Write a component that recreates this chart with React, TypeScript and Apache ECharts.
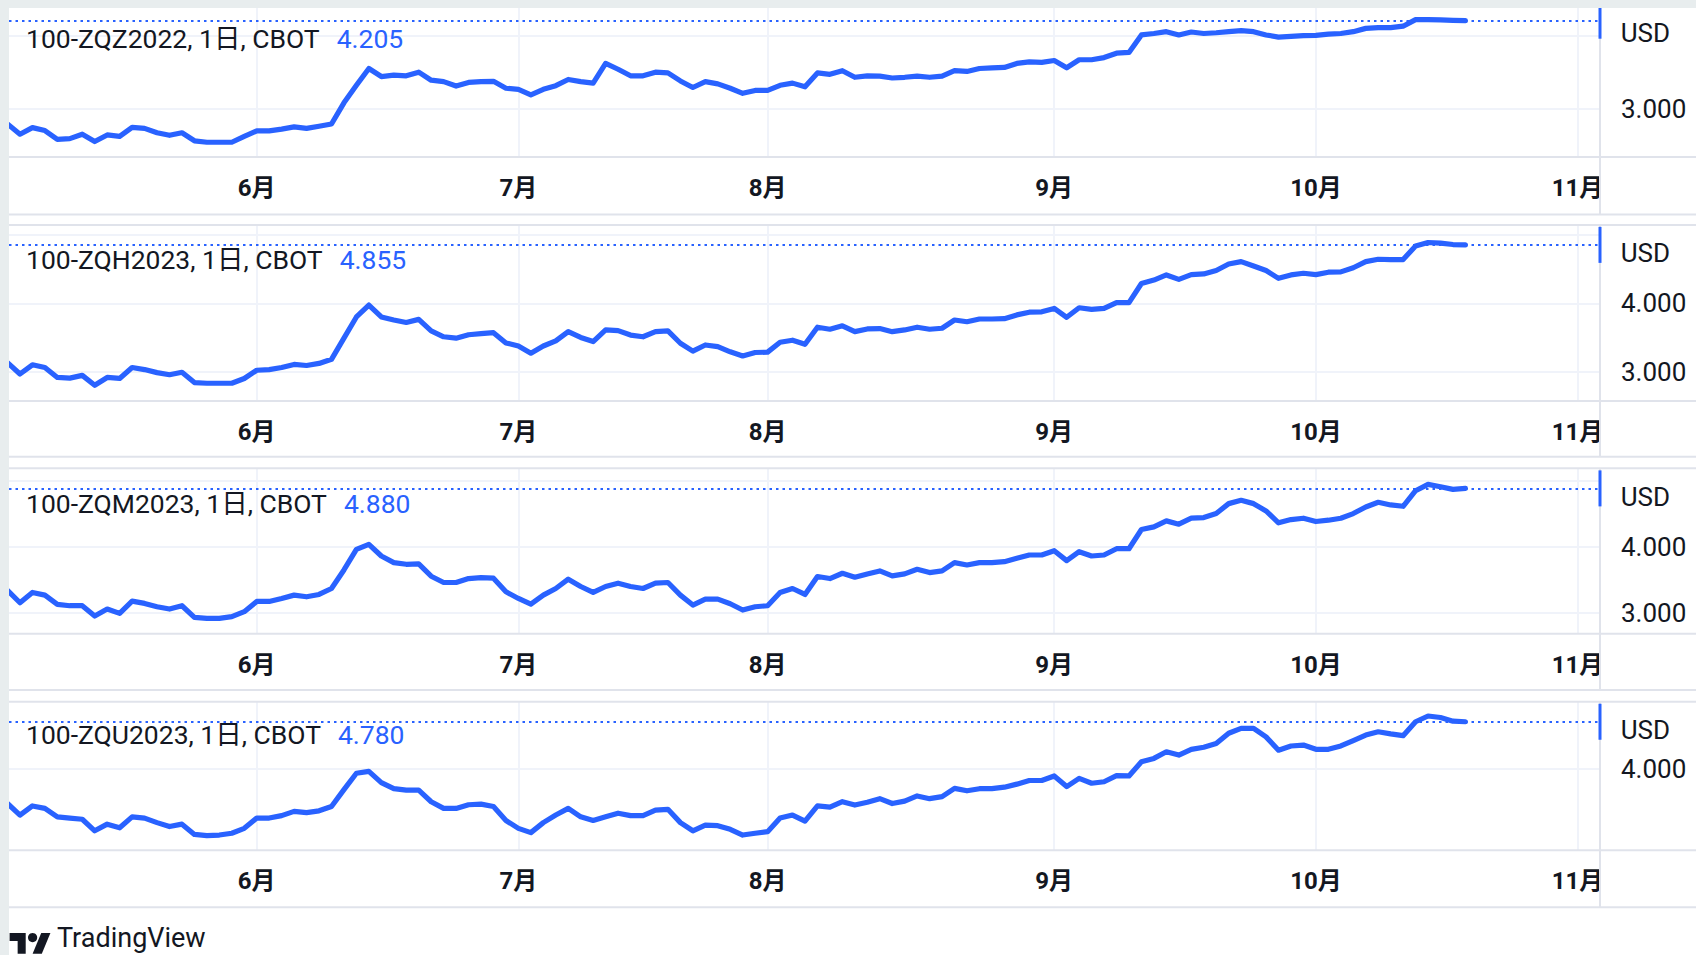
import React, { useEffect, useRef } from "react";
import * as echarts from "echarts";

// ---------- categories (trading days, CBOT) ----------
const HOLIDAYS = ["2022-05-30", "2022-06-20", "2022-07-04", "2022-09-05"];
function tradingDays(start: string, end: string, holidays: string[]): string[] {
  const out: string[] = [];
  const s = new Date(start + "T00:00:00Z");
  const e = new Date(end + "T00:00:00Z");
  for (let d = s; d <= e; d = new Date(d.getTime() + 86400000)) {
    const dow = d.getUTCDay();
    const iso = d.toISOString().slice(0, 10);
    if (dow === 0 || dow === 6 || holidays.includes(iso)) continue;
    out.push(iso);
  }
  return out;
}
const dates = tradingDays("2022-05-03", "2022-11-02", HOLIDAYS);

// ---------- series ----------
const symbols = ["100-ZQZ2022", "100-ZQH2023", "100-ZQM2023", "100-ZQU2023"];

const zqz2022 = [
  2.79, 2.65, 2.74, 2.70, 2.58, 2.59, 2.65, 2.55, 2.64, 2.62,
  2.745, 2.73, 2.67, 2.635, 2.67, 2.56, 2.54, 2.54, 2.54, 2.62,
  2.695, 2.695, 2.72, 2.75, 2.73, 2.76, 2.79, 3.08, 3.32, 3.55,
  3.44, 3.46, 3.45, 3.50, 3.39, 3.37, 3.31, 3.36, 3.37, 3.375,
  3.28, 3.265, 3.19, 3.265, 3.315, 3.40, 3.37, 3.35, 3.62, 3.54,
  3.45, 3.45, 3.50, 3.49, 3.38, 3.29, 3.37, 3.34, 3.28, 3.21,
  3.25, 3.25, 3.32, 3.35, 3.30, 3.49, 3.47, 3.52, 3.43, 3.45,
  3.445, 3.42, 3.43, 3.445, 3.43, 3.445, 3.52, 3.51, 3.55, 3.56,
  3.565, 3.62, 3.64, 3.635, 3.66, 3.56, 3.67, 3.67, 3.70, 3.76,
  3.77, 4.01, 4.03, 4.055, 4.01, 4.05, 4.03, 4.04, 4.055, 4.07,
  4.055, 4.01, 3.98, 3.99, 4.00, 4.005, 4.02, 4.03, 4.055, 4.10,
  4.11, 4.11, 4.13, 4.22, 4.22, 4.215, 4.21, 4.205,
];

const zqh2023 = [
  3.13, 2.965, 3.10, 3.06, 2.915, 2.905, 2.945, 2.80, 2.915, 2.90,
  3.06, 3.03, 2.985, 2.955, 2.99, 2.84, 2.83, 2.83, 2.83, 2.90,
  3.02, 3.03, 3.06, 3.105, 3.09, 3.12, 3.18, 3.49, 3.80, 3.975,
  3.80, 3.755, 3.72, 3.765, 3.595, 3.51, 3.49, 3.54, 3.555, 3.57,
  3.42, 3.375, 3.27, 3.375, 3.45, 3.585, 3.50, 3.44, 3.61, 3.60,
  3.535, 3.51, 3.585, 3.595, 3.415, 3.30, 3.39, 3.365, 3.29, 3.23,
  3.28, 3.285, 3.43, 3.46, 3.40, 3.65, 3.62, 3.67, 3.585, 3.625,
  3.63, 3.585, 3.61, 3.65, 3.62, 3.635, 3.755, 3.73, 3.77, 3.77,
  3.775, 3.83, 3.87, 3.875, 3.925, 3.795, 3.935, 3.91, 3.925, 4.01,
  4.01, 4.29, 4.34, 4.415, 4.35, 4.42, 4.43, 4.48, 4.575, 4.61,
  4.545, 4.48, 4.365, 4.415, 4.44, 4.42, 4.455, 4.46, 4.52, 4.61,
  4.645, 4.64, 4.64, 4.84, 4.89, 4.88, 4.86, 4.855,
];

const zqm2023 = [
  3.34, 3.155, 3.31, 3.27, 3.13, 3.11, 3.11, 2.955, 3.06, 2.995,
  3.18, 3.145, 3.095, 3.06, 3.11, 2.935, 2.92, 2.92, 2.945, 3.02,
  3.175, 3.175, 3.22, 3.27, 3.245, 3.28, 3.37, 3.65, 3.96, 4.035,
  3.86, 3.76, 3.735, 3.74, 3.555, 3.46, 3.46, 3.52, 3.535, 3.525,
  3.32, 3.22, 3.135, 3.27, 3.37, 3.51, 3.40, 3.31, 3.40, 3.45,
  3.40, 3.37, 3.45, 3.46, 3.27, 3.12, 3.21, 3.21, 3.14, 3.045,
  3.095, 3.11, 3.31, 3.37, 3.28, 3.55, 3.52, 3.60, 3.54, 3.59,
  3.635, 3.56, 3.59, 3.66, 3.61, 3.635, 3.76, 3.725, 3.76, 3.76,
  3.775, 3.825, 3.875, 3.875, 3.94, 3.79, 3.925, 3.86, 3.875, 3.97,
  3.97, 4.26, 4.30, 4.39, 4.34, 4.43, 4.44, 4.50, 4.65, 4.70,
  4.65, 4.54, 4.36, 4.41, 4.43, 4.38, 4.40, 4.43, 4.50, 4.60,
  4.67, 4.63, 4.61, 4.845, 4.94, 4.905, 4.865, 4.88,
];

const zqu2023 = [
  3.43, 3.24, 3.39, 3.35, 3.21, 3.19, 3.17, 2.98, 3.09, 3.03,
  3.21, 3.19, 3.115, 3.05, 3.09, 2.92, 2.90, 2.91, 2.94, 3.02,
  3.19, 3.19, 3.23, 3.30, 3.28, 3.31, 3.38, 3.66, 3.93, 3.96,
  3.775, 3.675, 3.65, 3.65, 3.46, 3.35, 3.35, 3.41, 3.42, 3.38,
  3.15, 3.02, 2.95, 3.115, 3.24, 3.35, 3.21, 3.15, 3.21, 3.27,
  3.23, 3.23, 3.32, 3.335, 3.115, 2.98, 3.075, 3.065, 3.005, 2.91,
  2.94, 2.965, 3.19, 3.24, 3.14, 3.39, 3.37, 3.46, 3.405, 3.45,
  3.51, 3.43, 3.47, 3.555, 3.51, 3.545, 3.68, 3.64, 3.675, 3.675,
  3.70, 3.75, 3.81, 3.81, 3.885, 3.71, 3.845, 3.765, 3.79, 3.89,
  3.885, 4.12, 4.175, 4.285, 4.23, 4.325, 4.36, 4.42, 4.59, 4.67,
  4.67, 4.53, 4.31, 4.38, 4.395, 4.325, 4.325, 4.38, 4.47, 4.56,
  4.615, 4.58, 4.55, 4.78, 4.875, 4.85, 4.79, 4.78,
];

const seriesValues = [zqz2022, zqh2023, zqm2023, zqu2023];

// price-scale ticks (labels shown / grid lines drawn)
const priceLabelTicks = [[3], [3, 4], [3, 4], [4]];
const priceGridTicks = [[3, 4], [3, 4, 5], [3, 4, 5], [4]];

// month tick labels
const monthTickIdx: number[] = [];
const monthTickLabel: Record<number, string> = {};
dates.forEach((d, i) => {
  if (i > 0 && d.slice(5, 7) !== dates[i - 1].slice(5, 7)) {
    monthTickIdx.push(i);
    monthTickLabel[i] = `${parseInt(d.slice(5, 7), 10)}月`;
  }
});

// ---------- layout / style ----------
const BLUE = "#2962ff";
const TEXT = "#131722";
const GRID = "#f0f3fa";
const BORDER = "#e0e3eb";
const FONT = "Roboto, 'Noto Sans CJK JP', 'Noto Sans', sans-serif";
const W = 1687;
const H = 947;
const PLOT_RIGHT = 1591;
const X_MIN = 0.12;
const X_MAX = 127.8;

const LAYOUT = [
  { top: 0, height: 149, yMin: 2.338, yMax: 4.379, boxTop: -2, boxBottom: 206.5, titleY: 30, usdY: 25.3 },
  { top: 217, height: 176, yMin: 2.57, yMax: 5.146, boxTop: 217, boxBottom: 448.7, titleY: 251.3, usdY: 245.3 },
  { top: 460.3, height: 165.4, yMin: 2.688, yMax: 5.183, boxTop: 460.3, boxBottom: 682, titleY: 495.3, usdY: 488.7 },
  { top: 693.7, height: 148.6, yMin: 2.658, yMax: 5.111, boxTop: 693.7, boxBottom: 899.3, titleY: 726.3, usdY: 722 },
];

function buildOption() {
  const grids: any[] = [];
  const xAxes: any[] = [];
  const yAxes: any[] = [];
  const series: any[] = [];
  const titles: any[] = [];
  const graphics: any[] = [];

  LAYOUT.forEach((p, i) => {
    const vals = seriesValues[i];
    const last = vals[vals.length - 1];
    grids.push({
      left: 0,
      width: PLOT_RIGHT,
      top: p.top,
      height: p.height,
      containLabel: false,
      outerBoundsMode: "none",
    });
    xAxes.push({
      type: "value",
      gridIndex: i,
      min: X_MIN,
      max: X_MAX,
      axisLine: { show: false },
      axisTick: { show: false, customValues: monthTickIdx },
      splitLine: { show: true, lineStyle: { color: GRID, width: 2 } },
      axisLabel: {
        customValues: monthTickIdx,
        formatter: (v: number) => monthTickLabel[Math.round(v)] || "",
        color: TEXT,
        fontSize: 24,
        fontWeight: "bold",
        fontFamily: FONT,
        margin: 19,
      },
    });
    yAxes.push({
      type: "value",
      gridIndex: i,
      position: "right",
      min: p.yMin,
      max: p.yMax,
      axisLine: { show: false },
      axisTick: { show: false, customValues: priceGridTicks[i] },
      splitLine: { show: true, lineStyle: { color: GRID, width: 2 } },
      axisLabel: {
        customValues: priceLabelTicks[i],
        formatter: (v: number) => v.toFixed(3),
        color: TEXT,
        fontSize: 26,
        fontFamily: FONT,
        margin: 21,
        align: "left",
      },
    });
    series.push({
      type: "line",
      xAxisIndex: i,
      yAxisIndex: i,
      data: vals.map((v, j) => [j, v]),
      showSymbol: false,
      silent: true,
      clip: true,
      lineStyle: { color: BLUE, width: 5.2, join: "round", cap: "round" },
      markLine: {
        silent: true,
        symbol: ["none", "none"],
        label: { show: false },
        lineStyle: { color: BLUE, type: [2.5, 4], width: 2, opacity: 1 },
        data: [{ yAxis: last }],
      },
      markPoint: {
        silent: true,
        symbol: "rect",
        symbolSize: [3, 36],
        itemStyle: { color: BLUE },
        label: { show: false },
        data: [{ coord: [X_MAX, last] }],
      },
    });
    titles.push({
      left: 17,
      top: p.titleY - 14,
      padding: 0,
      text: `{a|${symbols[i]}, 1日, CBOT}{b|${last.toFixed(3)}}`,
      textStyle: {
        rich: {
          a: { fontSize: 26.5, color: TEXT, fontFamily: FONT, fontWeight: "normal", lineHeight: 28 },
          b: { fontSize: 26.5, color: BLUE, fontFamily: FONT, fontWeight: "normal", padding: [0, 0, 0, 17], lineHeight: 28 },
        },
      },
    });

    const axisY = p.top + p.height;
    if (i > 0) {
      graphics.push({
        type: "line", silent: true, z: 60,
        shape: { x1: 0, y1: p.boxTop, x2: W, y2: p.boxTop },
        style: { stroke: BORDER, lineWidth: 2 },
      });
    }
    graphics.push({
      type: "line", silent: true, z: 60,
      shape: { x1: 0, y1: p.boxBottom, x2: W, y2: p.boxBottom },
      style: { stroke: BORDER, lineWidth: 2 },
    });
    graphics.push({
      type: "rect", silent: true, z: 50,
      shape: { x: PLOT_RIGHT + 1, y: axisY + 1, width: W - PLOT_RIGHT, height: p.boxBottom - axisY - 2 },
      style: { fill: "#ffffff" },
    });
    graphics.push({
      type: "line", silent: true, z: 60,
      shape: { x1: 0, y1: axisY, x2: W, y2: axisY },
      style: { stroke: BORDER, lineWidth: 2 },
    });
    graphics.push({
      type: "line", silent: true, z: 1,
      shape: { x1: PLOT_RIGHT, y1: Math.max(p.boxTop, 0), x2: PLOT_RIGHT, y2: p.boxBottom },
      style: { stroke: BORDER, lineWidth: 2 },
    });
    graphics.push({
      type: "text", silent: true, z: 60,
      x: 1611.7, y: p.usdY,
      style: { text: "USD", fill: TEXT, fontSize: 26, fontFamily: FONT, textVerticalAlign: "middle", textAlign: "left" },
    });
  });

  // TradingView logo
  graphics.push({
    type: "group", silent: true, x: 0.6, y: 920.4, scaleX: 1.15, scaleY: 1.15, z: 60,
    children: [
      { type: "polygon", shape: { points: [[0, 4], [14, 4], [14, 22], [7, 22], [7, 11], [0, 11]] }, style: { fill: TEXT } },
      { type: "circle", shape: { cx: 20, cy: 8, r: 4 }, style: { fill: TEXT } },
      { type: "polygon", shape: { points: [[20, 22], [27.5, 4], [35.5, 4], [28, 22]] }, style: { fill: TEXT } },
    ],
  });
  graphics.push({
    type: "text", silent: true, z: 60, x: 48, y: 930,
    style: { text: "TradingView", fill: TEXT, fontSize: 27, fontFamily: FONT, textVerticalAlign: "middle", textAlign: "left" },
  });

  return {
    animation: false,
    backgroundColor: "#ffffff",
    title: titles,
    grid: grids,
    xAxis: xAxes,
    yAxis: yAxes,
    series,
    graphic: graphics,
  };
}

export default function App() {
  const ref = useRef<HTMLDivElement>(null);
  useEffect(() => {
    if (!ref.current) return;
    const chart = echarts.init(ref.current, undefined, { renderer: "svg" });
    chart.setOption(buildOption() as any);
    return () => chart.dispose();
  }, []);
  return (
    <div style={{ position: "fixed", left: 0, top: 0, width: 1696, height: 955, background: "#e8edee", overflow: "hidden" }}>
      <div ref={ref} style={{ position: "absolute", left: 9, top: 8, width: W, height: H }} />
    </div>
  );
}
